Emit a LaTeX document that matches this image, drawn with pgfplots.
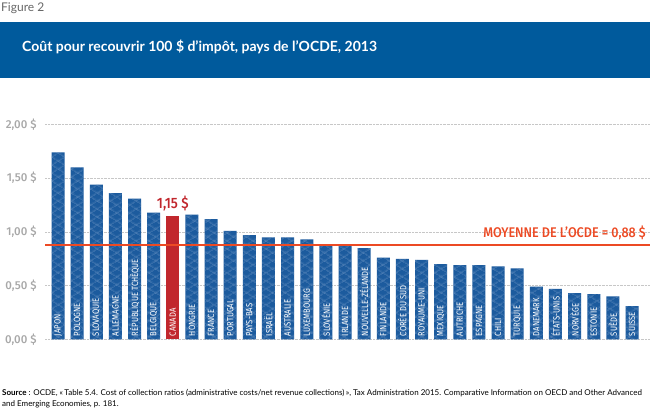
\documentclass[border=0pt]{standalone}
\usepackage{pgfplots}
\pgfplotsset{compat=1.18}
\usetikzlibrary{patterns.meta}
\usepackage{fontspec}
\setmainfont{Lato}
\newfontfamily\cond[FakeStretch=0.85]{Fira Sans}
\newfontfamily\condb[FakeStretch=0.9]{Fira Sans Medium}
\newfontfamily\tickf{Fira Sans Medium}
\definecolor{banner}{HTML}{005A9C}
\definecolor{barblue}{HTML}{1C5B9E}
\definecolor{hatch}{HTML}{6F96C6}
\definecolor{canred}{HTML}{C1272D}
\definecolor{meanred}{HTML}{EC4A24}
\definecolor{tickgray}{HTML}{A8A8A8}
\newcommand\lbl[2]{\node[anchor=west,text=white,font=\cond\fontsize{9bp}{10bp}\selectfont,inner sep=0pt,rotate=90,xshift=3bp] at (axis cs:#1,0) {#2};}
\begin{document}
\begin{tikzpicture}[x=1bp,y=1bp]
\path[use as bounding box] (0,0) rectangle (650,412);
% header
\node[anchor=west,inner sep=0,text=black!60,font=\fontsize{12bp}{14bp}\selectfont] at (1,404) {Figure 2};
\fill[banner] (0,334) rectangle (650,390);
\node[anchor=west,inner sep=0,text=white,font=\bfseries\fontsize{14bp}{16bp}\selectfont] at (22,365) {Coût pour recouvrir 100 \$ d’impôt, pays de l’OCDE, 2013};
% source
\node[anchor=west,inner sep=0,font=\fontsize{8bp}{9bp}\selectfont] at (2,19) {\textbf{Source} : OCDE, «\,Table 5.4. Cost of collection ratios (administrative costs/net revenue collections)\,», Tax Administration 2015. Comparative Information on OECD and Other Advanced};
\node[anchor=west,inner sep=0,font=\fontsize{8bp}{9bp}\selectfont] at (2,8) {and Emerging Economies, p. 181.};
\begin{axis}[
  at={(45bp,72.7bp)}, anchor=south west,
  width=605bp, height=214.8bp, scale only axis,
  xmin=-0.68, xmax=30.94, ymin=0, ymax=2,
  axis line style={draw=none},
  major tick length=0pt,
  ytick={0,0.5,1,1.5,2},
  yticklabels={{0,00 \$},{0,50 \$},{1,00 \$},{1,50 \$},{2,00 \$}},
  yticklabel style={text=tickgray,font=\tickf\fontsize{11.5bp}{13bp}\selectfont,anchor=east,xshift=-5bp},
  ymajorgrids, grid style={densely dotted,black!22,line width=0.7bp},
  xtick=\empty,
  clip=false,
]
\addplot[ybar, bar width=13bp, bar shift=0pt, draw=none, fill=barblue,
  postaction={pattern={Lines[angle=31.6,distance=6.8bp,line width=0.5bp]},pattern color=hatch},
  postaction={pattern={Lines[angle=-31.6,distance=6.8bp,line width=0.5bp]},pattern color=hatch}]
coordinates {(0,1.74) (1,1.60) (2,1.44) (3,1.36) (4,1.31) (5,1.18) (7,1.16) (8,1.12) (9,1.01) (10,0.97) (11,0.95) (12,0.95) (13,0.93) (14,0.87) (15,0.87) (16,0.85) (17,0.76) (18,0.75) (19,0.74) (20,0.70) (21,0.69) (22,0.69) (23,0.68) (24,0.66) (25,0.49) (26,0.47) (27,0.43) (28,0.42) (29,0.40) (30,0.31)};
\addplot[ybar, bar width=13bp, bar shift=0pt, draw=none, fill=canred] coordinates {(6,1.15)};
\addplot[meanred, line width=2.4bp] coordinates {(-0.68,0.88) (30.94,0.88)};
\foreach \lab [count=\i from 0] in {JAPON,POLOGNE,SLOVAQUIE,ALLEMAGNE,RÉPUBLIQUE TCHÈQUE,BELGIQUE,CANADA,HONGRIE,FRANCE,PORTUGAL,PAYS-BAS,ISRAËL,AUSTRALIE,LUXEMBOURG,SLOVÉNIE,IRLANDE,NOUVELLE-ZÉLANDE,FINLANDE,CORÉE DU SUD,ROYAUME-UNI,MEXIQUE,AUTRICHE,ESPAGNE,CHILI,TURQUIE,DANEMARK,ÉTATS-UNIS,NORVÈGE,ESTONIE,SUÈDE,SUISSE}{%
  \edef\tmp{\noexpand\lbl{\i}{\lab}}\tmp}
\node[anchor=south,text=canred,font=\condb\fontsize{15bp}{17bp}\selectfont,inner sep=0pt] at (axis cs:6,1.15) [yshift=5bp] {1,15 \$};
\node[anchor=south east,text=meanred,font=\condb\fontsize{14bp}{16bp}\selectfont,inner sep=0pt] at (axis cs:30.73,0.88) [yshift=5bp] {MOYENNE DE L’OCDE = 0,88 \$};
\end{axis}
\end{tikzpicture}
\end{document}
